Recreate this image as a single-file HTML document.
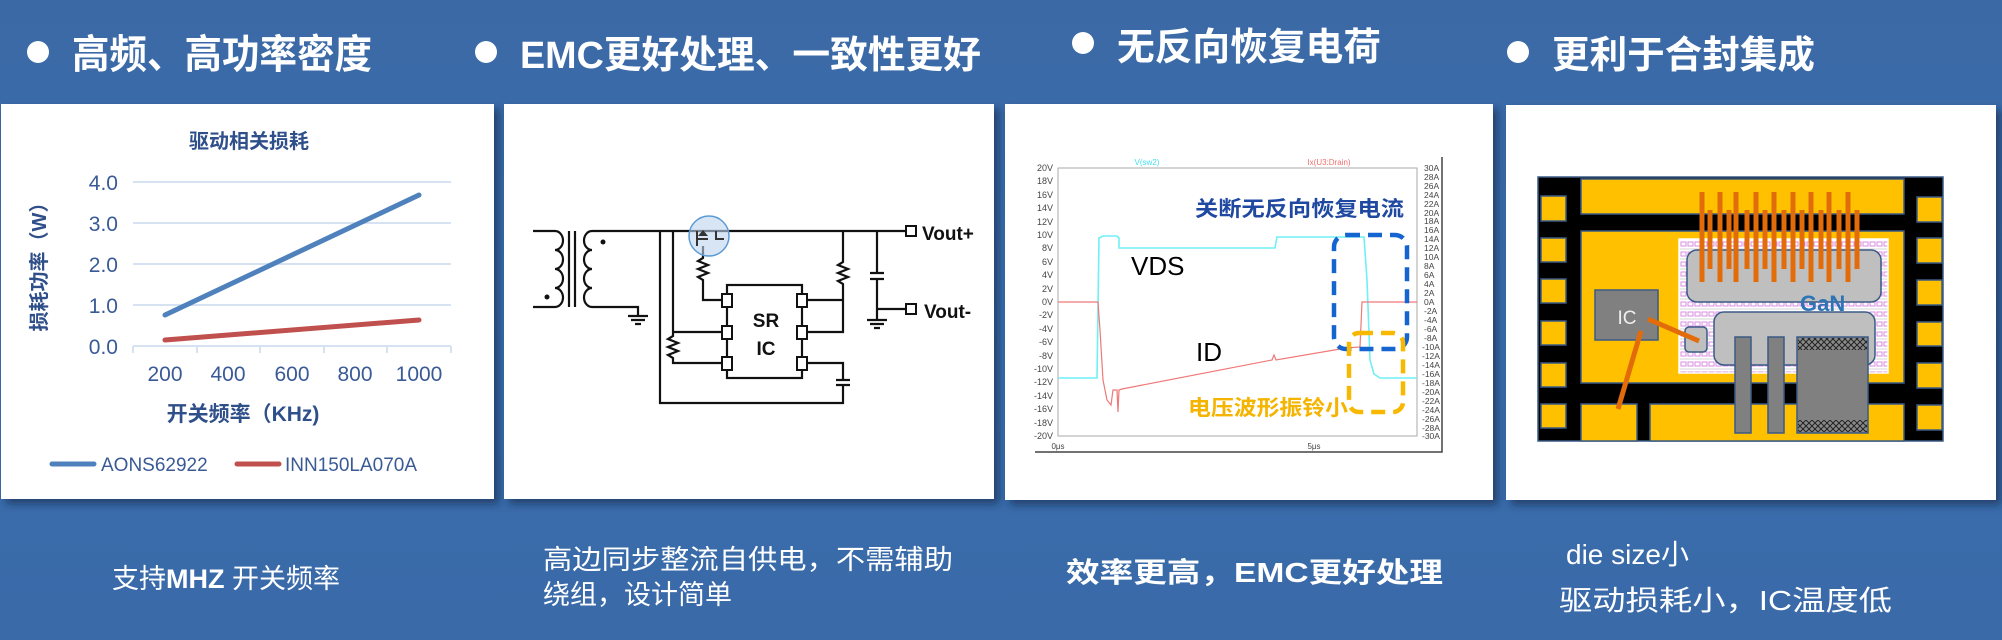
<!DOCTYPE html>
<html><head><meta charset="utf-8">
<style>
html,body{margin:0;padding:0;}
body{width:2002px;height:640px;overflow:hidden;background:linear-gradient(180deg,#3b69a6 0%,#3a6dad 50%,#3a6aa8 100%);}
svg{display:block;}
text{font-family:"Liberation Sans","Noto Sans CJK SC",sans-serif;}
</style></head><body>
<svg width="2002" height="640" viewBox="0 0 2002 640" xmlns="http://www.w3.org/2000/svg">
<defs>
<filter id="sh" x="-5%" y="-5%" width="115%" height="115%"><feDropShadow dx="5" dy="5" stdDeviation="4" flood-color="#14284a" flood-opacity="0.6"/></filter>
<pattern id="hx" width="6" height="6" patternUnits="userSpaceOnUse"><rect width="6" height="6" fill="#8a8a8a"/><path d="M0 0L6 6M6 0L0 6" stroke="#222" stroke-width="1"/></pattern>
<pattern id="pk" width="14" height="10" patternUnits="userSpaceOnUse"><rect width="14" height="10" fill="#fff"/><rect x="1" y="2" width="5" height="4" fill="none" stroke="#d98be0" stroke-width="1"/><rect x="8" y="2" width="5" height="4" fill="none" stroke="#d98be0" stroke-width="1"/><line x1="0" y1="9" x2="14" y2="9" stroke="#bbb" stroke-width="0.6"/></pattern>
</defs>

<!-- headings -->
<g fill="#fff" font-weight="bold">
<circle cx="38" cy="52" r="11"/>
<text x="72" y="68" font-size="40" textLength="300" lengthAdjust="spacingAndGlyphs">高频、高功率密度</text>
<circle cx="486" cy="52" r="11"/>
<text x="520" y="68" font-size="38" textLength="461" lengthAdjust="spacingAndGlyphs">EMC更好处理、一致性更好</text>
<circle cx="1083" cy="43" r="11"/>
<text x="1117" y="60" font-size="38" textLength="264" lengthAdjust="spacingAndGlyphs">无反向恢复电荷</text>
<circle cx="1518" cy="52" r="11"/>
<text x="1552" y="68" font-size="38" textLength="263" lengthAdjust="spacingAndGlyphs">更利于合封集成</text>
</g>

<!-- panels -->
<g fill="#fff" filter="url(#sh)">
<rect x="1" y="104" width="493" height="395"/>
<rect x="504" y="104" width="490" height="395"/>
<rect x="1005" y="104" width="488" height="396"/>
<rect x="1506" y="105" width="490" height="395"/>
</g>

<!-- Panel 1 chart -->
<g>
<text x="249" y="148" font-size="20" font-weight="bold" fill="#2f4f8a" text-anchor="middle">驱动相关损耗</text>
<g stroke="#d6e2f2" stroke-width="2">
<line x1="133" y1="182" x2="451" y2="182"/><line x1="133" y1="223" x2="451" y2="223"/>
<line x1="133" y1="264" x2="451" y2="264"/><line x1="133" y1="305" x2="451" y2="305"/>
<line x1="133" y1="346" x2="451" y2="346"/>
<line x1="133" y1="346" x2="133" y2="353"/><line x1="197" y1="346" x2="197" y2="353"/>
<line x1="260" y1="346" x2="260" y2="353"/><line x1="324" y1="346" x2="324" y2="353"/>
<line x1="387" y1="346" x2="387" y2="353"/><line x1="451" y1="346" x2="451" y2="353"/>
</g>
<g font-size="21" fill="#3a5a96" text-anchor="end">
<text x="118" y="190">4.0</text><text x="118" y="231">3.0</text><text x="118" y="272">2.0</text><text x="118" y="313">1.0</text><text x="118" y="354">0.0</text>
</g>
<g font-size="21" fill="#3a5a96" text-anchor="middle">
<text x="165" y="381">200</text><text x="228" y="381">400</text><text x="292" y="381">600</text><text x="355" y="381">800</text><text x="419" y="381">1000</text>
</g>
<line x1="165" y1="315" x2="419" y2="195" stroke="#4f81bd" stroke-width="5" stroke-linecap="round"/>
<line x1="165" y1="340" x2="419" y2="320" stroke="#c0504d" stroke-width="5" stroke-linecap="round"/>
<text transform="translate(46,262) rotate(-90)" font-size="20" font-weight="bold" fill="#2f4f8a" text-anchor="middle">损耗功率（W）</text>
<text x="243" y="421" font-size="21" font-weight="bold" fill="#2f4f8a" text-anchor="middle">开关频率（KHz)</text>
<line x1="52" y1="464" x2="94" y2="464" stroke="#4f81bd" stroke-width="5" stroke-linecap="round"/>
<text x="101" y="471" font-size="19" fill="#3a5a96">AONS62922</text>
<line x1="237" y1="464" x2="279" y2="464" stroke="#c0504d" stroke-width="5" stroke-linecap="round"/>
<text x="285" y="471" font-size="19" fill="#3a5a96">INN150LA070A</text>
</g>

<!-- Panel 2 circuit -->
<g fill="none" stroke="#111" stroke-width="2.2">
<path d="M533 231H555 M533 307H555"/>
<path d="M555 231 a8 9.5 0 0 1 0 19 a8 9.5 0 0 1 0 19 a8 9.5 0 0 1 0 19 a8 9.5 0 0 1 0 19"/>
<line x1="569" y1="231" x2="569" y2="307"/><line x1="575" y1="231" x2="575" y2="307"/>
<path d="M592 231 a8 9.5 0 0 0 0 19 a8 9.5 0 0 0 0 19 a8 9.5 0 0 0 0 19 a8 9.5 0 0 0 0 19"/>
<path d="M592 231H905 M592 307H638V316"/>
<path d="M628 316H648 M631 320H645 M635 324H641"/>
<path d="M660 231V403H843V386 M843 380V363H802"/>
<path d="M836 380H850 M836 385H850"/>
<path d="M673 231V332H721 M673 332V336 l-5 3 l10 4 l-10 4 l10 4 l-10 4 l5 3 V363H721"/>
<path d="M703 246V258 l-5 3 l10 4 l-10 4 l10 4 l-10 4 l5 3 V300H721"/>
<path d="M843 231V262 l-5 3 l10 4 l-10 4 l10 4 l-10 4 l5 3 V332H808 M808 300H843"/>
<rect x="727" y="285" width="75" height="93"/>
<path d="M877 231V273 M870 273H884 M870 279H884 M877 279V309H905 M877 309V320 M867 320H887 M870 324H884 M874 328H880"/>
</g>
<g fill="#fff" stroke="#111" stroke-width="2">
<rect x="722" y="294" width="10" height="13"/><rect x="722" y="326" width="10" height="13"/><rect x="722" y="357" width="10" height="13"/>
<rect x="797" y="294" width="10" height="13"/><rect x="797" y="326" width="10" height="13"/><rect x="797" y="357" width="10" height="13"/>
<rect x="906" y="226" width="10" height="10"/><rect x="906" y="304" width="10" height="10"/>
</g>
<circle cx="603" cy="242" r="2.5" fill="#111"/><circle cx="547" cy="297" r="2.5" fill="#111"/>
<circle cx="709" cy="236" r="20" fill="#bcd3ee" fill-opacity="0.6" stroke="#5b9bd5" stroke-width="1.5"/>
<g stroke="#333" stroke-width="2" fill="none"><path d="M697 231V246 M716 231V239H724 M698 239H708"/></g>
<path d="M698 236h10l-5 -6z" fill="#333"/>
<text x="766" y="327" font-size="19" font-weight="bold" text-anchor="middle" fill="#111">SR</text>
<text x="766" y="355" font-size="19" font-weight="bold" text-anchor="middle" fill="#111">IC</text>
<text x="922" y="240" font-size="19" font-weight="bold" fill="#111">Vout+</text>
<text x="924" y="318" font-size="19" font-weight="bold" fill="#111">Vout-</text>

<!-- Panel 3 waveform -->
<g>
<path d="M1035 452H1442V157" fill="none" stroke="#444" stroke-width="1.5"/>
<rect x="1058" y="168" width="359" height="268" fill="#fff" stroke="#aaa" stroke-width="1"/>
<g font-size="9" fill="#444" text-anchor="end">
<text x="1053" y="171">20V</text><text x="1053" y="184">18V</text><text x="1053" y="198">16V</text><text x="1053" y="211">14V</text><text x="1053" y="225">12V</text><text x="1053" y="238">10V</text><text x="1053" y="251">8V</text><text x="1053" y="265">6V</text><text x="1053" y="278">4V</text><text x="1053" y="292">2V</text><text x="1053" y="305">0V</text><text x="1053" y="318">-2V</text><text x="1053" y="332">-4V</text><text x="1053" y="345">-6V</text><text x="1053" y="359">-8V</text><text x="1053" y="372">-10V</text><text x="1053" y="385">-12V</text><text x="1053" y="399">-14V</text><text x="1053" y="412">-16V</text><text x="1053" y="426">-18V</text><text x="1053" y="439">-20V</text>
</g>
<g font-size="8.5" fill="#444">
<text x="1424" y="171">30A</text><text x="1424" y="180">28A</text><text x="1424" y="189">26A</text><text x="1424" y="198">24A</text><text x="1424" y="207">22A</text><text x="1424" y="216">20A</text><text x="1424" y="224">18A</text><text x="1424" y="233">16A</text><text x="1424" y="242">14A</text><text x="1424" y="251">12A</text><text x="1424" y="260">10A</text><text x="1424" y="269">8A</text><text x="1424" y="278">6A</text><text x="1424" y="287">4A</text><text x="1424" y="296">2A</text><text x="1424" y="305">0A</text><text x="1424" y="314">-2A</text><text x="1424" y="323">-4A</text><text x="1424" y="332">-6A</text><text x="1424" y="341">-8A</text><text x="1422" y="350">-10A</text><text x="1422" y="359">-12A</text><text x="1422" y="368">-14A</text><text x="1422" y="377">-16A</text><text x="1422" y="386">-18A</text><text x="1422" y="395">-20A</text><text x="1422" y="404">-22A</text><text x="1422" y="413">-24A</text><text x="1422" y="422">-26A</text><text x="1422" y="431">-28A</text><text x="1422" y="439">-30A</text>
</g>
<text x="1058" y="449" font-size="8" fill="#444" text-anchor="middle">0μs</text>
<text x="1314" y="449" font-size="8" fill="#444" text-anchor="middle">5μs</text>
<text x="1147" y="165" font-size="8" fill="#40e0f0" text-anchor="middle">V(sw2)</text>
<text x="1329" y="165" font-size="8" fill="#f07070" text-anchor="middle">Ix(U3:Drain)</text>
<polyline fill="none" stroke="#6ff0f5" stroke-width="1.6" points="1058,378 1097,378 1099,238 1103,236 1117,236 1119,238 1119,248 1275,248 1277,237 1364,237 1367,280 1370,360 1374,374 1380,378 1417,378"/>
<polyline fill="none" stroke="#f07878" stroke-width="1.2" points="1058,302 1098,302 1100,330 1103,380 1107,400 1111,405 1113,390 1117,390 1118,412 1119,390 1122,389 1272,360 1274,355 1276,360 1346,348 1360,347 1362,302 1417,302"/>
<text x="1195" y="216" font-size="21" font-weight="bold" fill="#1f48a0" textLength="209" lengthAdjust="spacingAndGlyphs">关断无反向恢复电流</text>
<text x="1131" y="275" font-size="26" fill="#000">VDS</text>
<text x="1196" y="361" font-size="26" fill="#000">ID</text>
<text x="1188" y="415" font-size="21" font-weight="bold" fill="#f5b400" textLength="160" lengthAdjust="spacingAndGlyphs">电压波形振铃小</text>
<rect x="1334" y="235" width="73" height="114" rx="12" fill="none" stroke="#1565d0" stroke-width="4.5" stroke-dasharray="14 8"/>
<rect x="1349" y="333" width="54" height="79" rx="10" fill="none" stroke="#f8b800" stroke-width="4.5" stroke-dasharray="14 8"/>
</g>

<!-- Panel 4 package -->
<g stroke="#3a5a85" stroke-width="1.5">
<rect x="1538" y="177" width="405" height="264" fill="#000"/>
<g fill="#ffc000">
<rect x="1581" y="179" width="323" height="35"/>
<rect x="1581" y="231" width="323" height="152"/>
<rect x="1581" y="404" width="56" height="37"/>
<rect x="1650" y="404" width="254" height="37"/>
<rect x="1541" y="196" width="25" height="25"/><rect x="1541" y="238" width="25" height="24"/><rect x="1541" y="279" width="25" height="24"/><rect x="1541" y="321" width="25" height="24"/><rect x="1541" y="363" width="25" height="24"/><rect x="1541" y="404" width="25" height="24"/>
<rect x="1917" y="197" width="25" height="25"/><rect x="1917" y="238" width="25" height="25"/><rect x="1917" y="280" width="25" height="25"/><rect x="1917" y="322" width="25" height="24"/><rect x="1917" y="363" width="25" height="25"/><rect x="1917" y="405" width="25" height="25"/>
</g>
</g>
<rect x="1679" y="239" width="209" height="134" fill="url(#pk)" stroke="#fff" stroke-width="1.5"/>
<rect x="1687" y="250" width="194" height="52" rx="10" fill="#bfbfbf" stroke="#3a5a85" stroke-width="1.5"/>
<rect x="1714" y="312" width="161" height="53" rx="10" fill="#bfbfbf" stroke="#3a5a85" stroke-width="1.5"/>
<text x="1800" y="311" font-size="22" font-weight="bold" fill="#2e75b6">GaN</text>
<rect x="1595" y="290" width="63" height="50" fill="#808080" stroke="#3a5a85" stroke-width="1.5"/>
<text x="1627" y="324" font-size="19" fill="#eee" text-anchor="middle">IC</text>
<rect x="1685" y="327" width="22" height="25" rx="4" fill="#bfbfbf" stroke="#3a5a85" stroke-width="1.5"/>
<g fill="#808080" stroke="#3a5a85" stroke-width="1.5">
<rect x="1735" y="337" width="16" height="96"/>
<rect x="1768" y="337" width="16" height="96"/>
<rect x="1797" y="337" width="71" height="96"/>
</g>
<rect x="1798" y="338" width="69" height="12" fill="url(#hx)"/>
<rect x="1798" y="420" width="69" height="12" fill="url(#hx)"/>
<g stroke="#e36c0a" stroke-width="5">
<line x1="1702" y1="192" x2="1702" y2="282"/><line x1="1720" y1="192" x2="1720" y2="282"/><line x1="1736" y1="192" x2="1736" y2="282"/><line x1="1756" y1="192" x2="1756" y2="282"/><line x1="1774" y1="192" x2="1774" y2="282"/><line x1="1793" y1="192" x2="1793" y2="282"/><line x1="1811" y1="192" x2="1811" y2="282"/><line x1="1829" y1="192" x2="1829" y2="282"/><line x1="1848" y1="192" x2="1848" y2="282"/>
<line x1="1710" y1="210" x2="1710" y2="269"/><line x1="1729" y1="210" x2="1729" y2="269"/><line x1="1747" y1="210" x2="1747" y2="269"/><line x1="1765" y1="210" x2="1765" y2="269"/><line x1="1784" y1="210" x2="1784" y2="269"/><line x1="1802" y1="210" x2="1802" y2="269"/><line x1="1821" y1="210" x2="1821" y2="269"/><line x1="1839" y1="210" x2="1839" y2="269"/><line x1="1857" y1="210" x2="1857" y2="269"/>
<line x1="1648" y1="319" x2="1699" y2="341"/>
<line x1="1641" y1="331" x2="1618" y2="409"/>
</g>

<!-- bottom texts -->
<g fill="#fff">
<text x="112" y="588" font-size="27"><tspan>支持</tspan><tspan font-weight="bold">MHZ</tspan><tspan> 开关频率</tspan></text>
<text x="543" y="569" font-size="27" textLength="410" lengthAdjust="spacingAndGlyphs">高边同步整流自供电，不需辅助</text>
<text x="543" y="604" font-size="27">绕组，设计简单</text>
<text x="1066" y="582" font-size="28" font-weight="bold" textLength="377" lengthAdjust="spacingAndGlyphs">效率更高，EMC更好处理</text>
<text x="1566" y="564" font-size="28">die size小</text>
<text x="1559" y="610" font-size="28" textLength="333" lengthAdjust="spacingAndGlyphs">驱动损耗小，IC温度低</text>
</g>
</svg>
</body></html>
